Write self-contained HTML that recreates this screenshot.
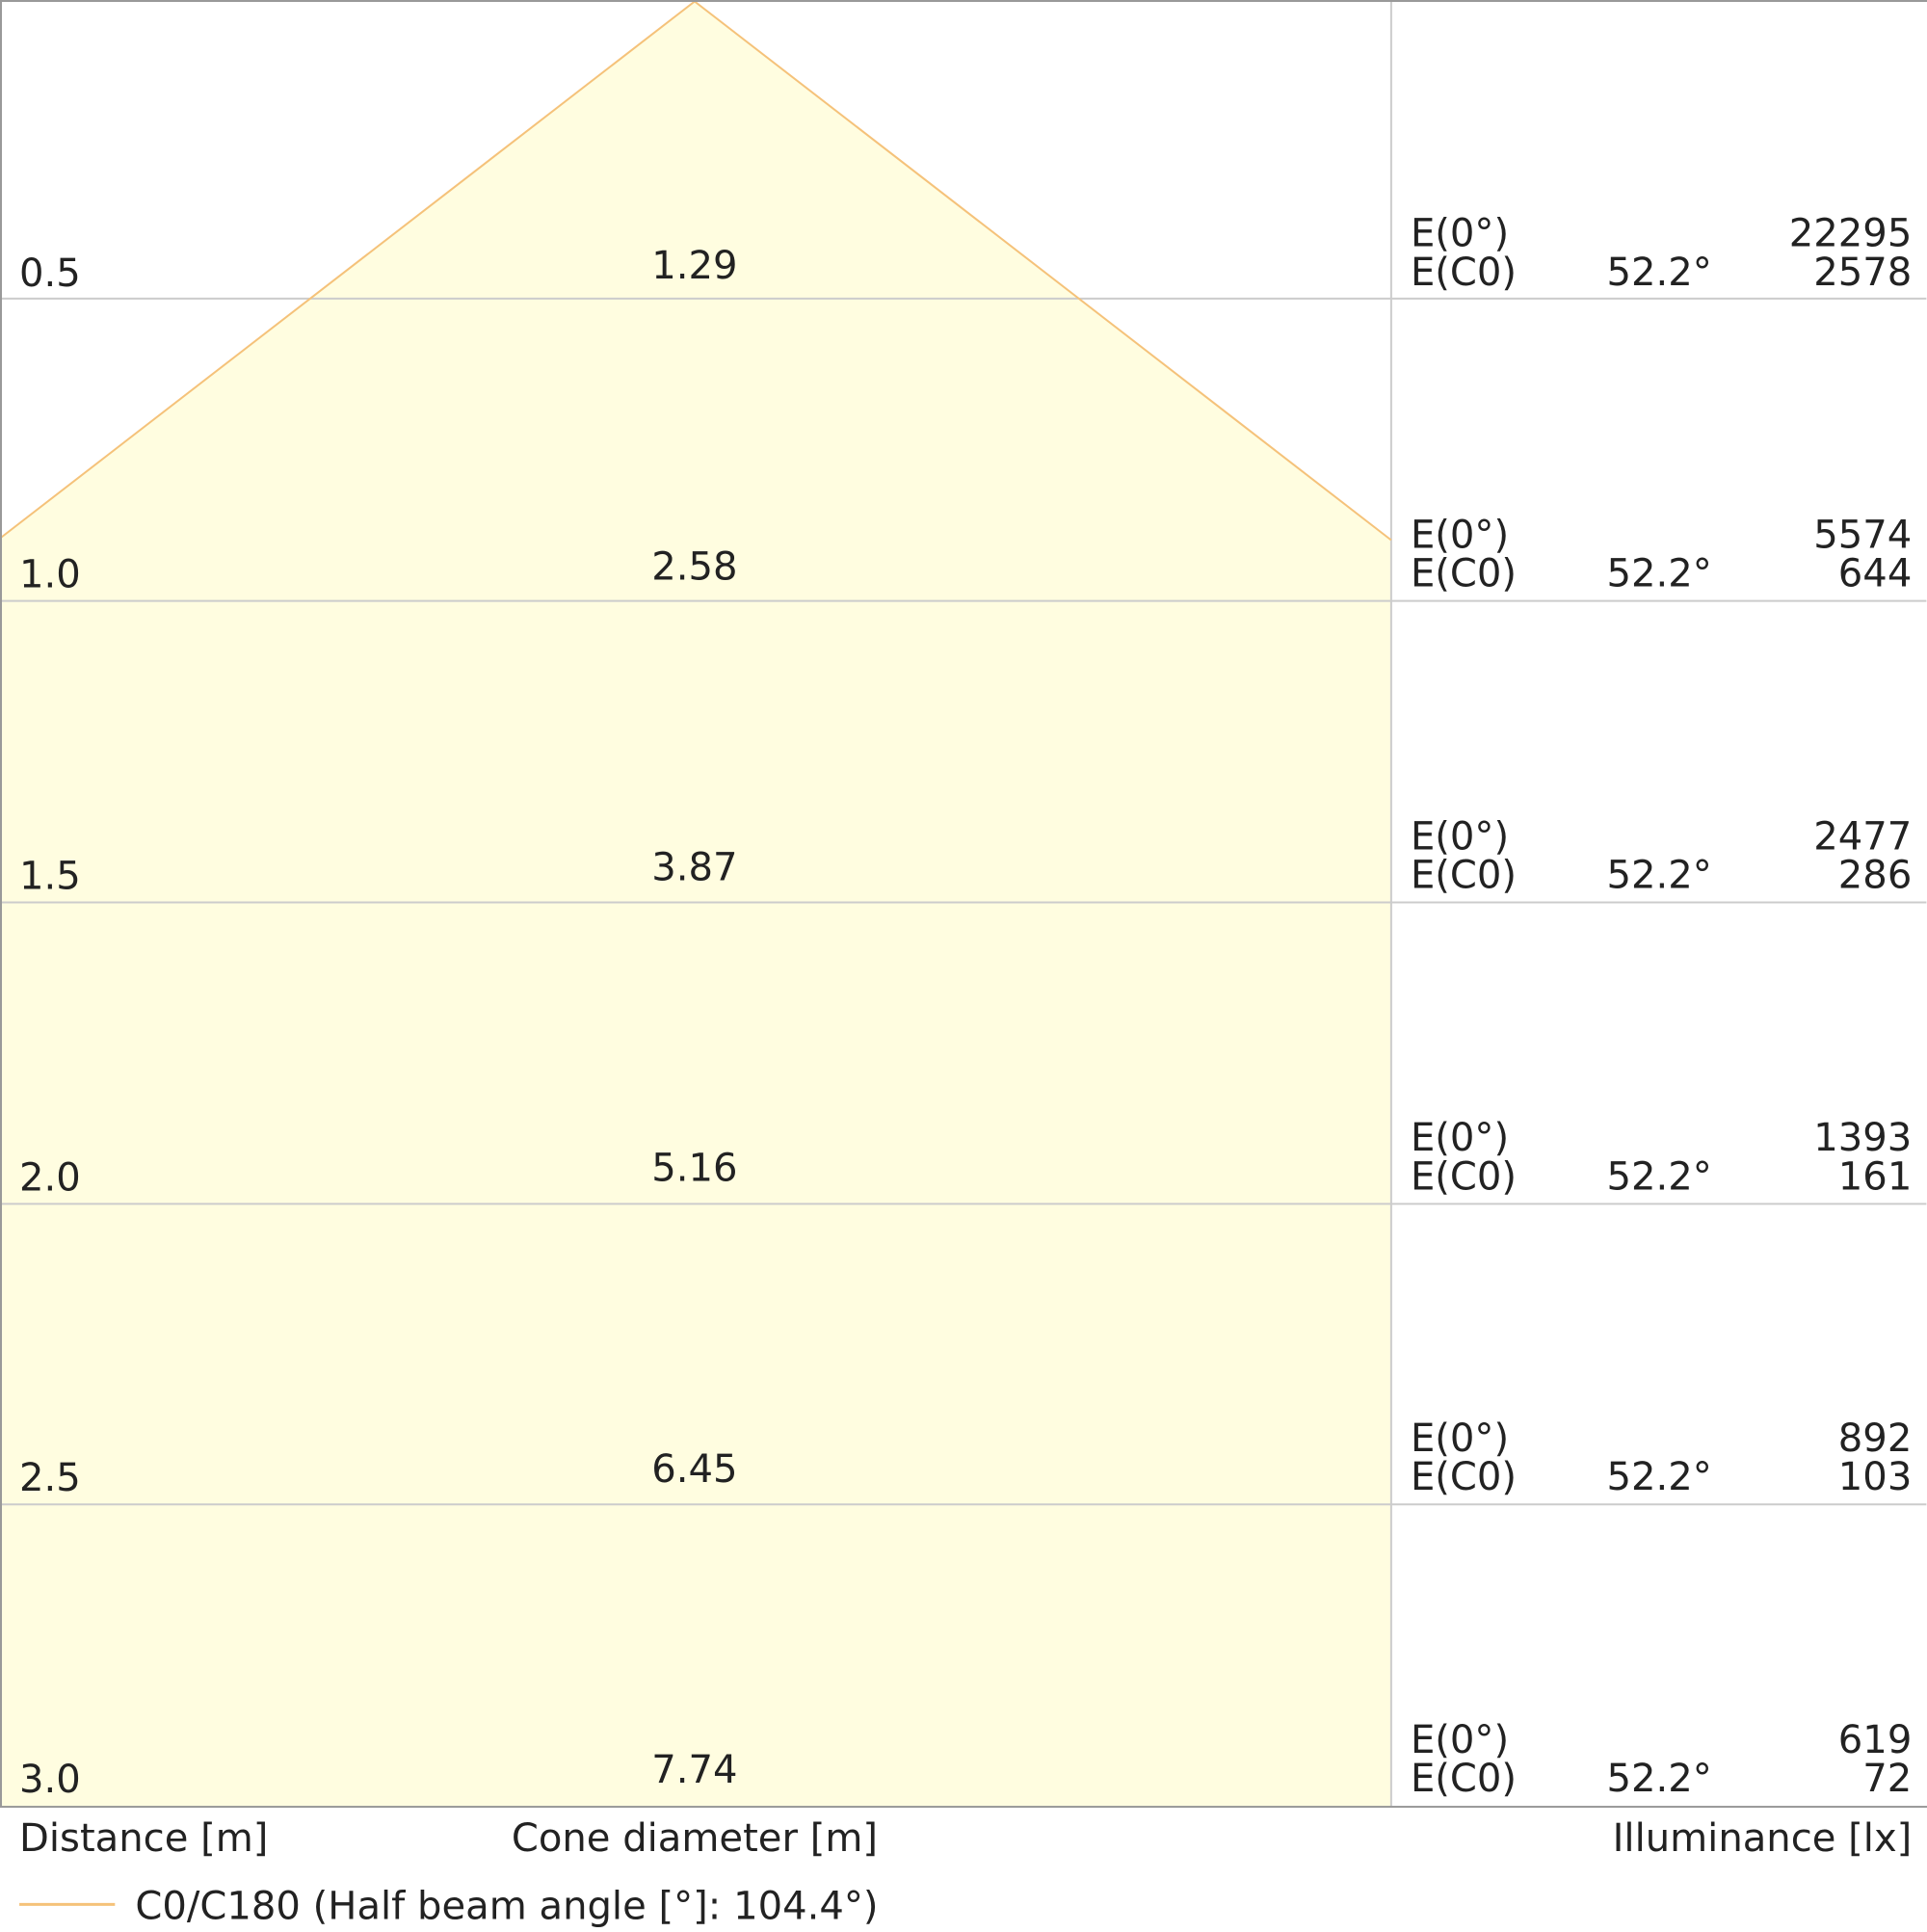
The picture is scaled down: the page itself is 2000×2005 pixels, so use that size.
<!DOCTYPE html>
<html><head><meta charset="utf-8"><style>
html,body{margin:0;padding:0;background:#fff}
svg text{font-family:"DejaVu Sans","Liberation Sans",sans-serif;font-size:40px;fill:#222}
</style></head><body>
<svg width="2000" height="2000" viewBox="0 0 2000 2000" xmlns="http://www.w3.org/2000/svg">
<g transform="scale(1.0027)">
<polygon points="1.5,556 719,1.5 1440,559 1440,1870 1.5,1870" fill="#fffde0"/>
<g stroke="#cccccc" stroke-width="2">
<line x1="1" y1="309" x2="1994" y2="309"/>
<line x1="1" y1="622" x2="1994" y2="622"/>
<line x1="1" y1="934" x2="1994" y2="934"/>
<line x1="1" y1="1246" x2="1994" y2="1246"/>
<line x1="1" y1="1557" x2="1994" y2="1557"/>
<line x1="1440" y1="1" x2="1440" y2="1870"/>
</g>
<polyline points="1.5,556 719,1.5 1440,559" fill="none" stroke="#f5c27a" stroke-width="2"/>
<rect x="1" y="1" width="1996" height="1869" fill="none" stroke="#999" stroke-width="2"/>
<g>
<text x="20" y="296">0.5</text><text x="719" y="288" text-anchor="middle">1.29</text>
<text x="20" y="608">1.0</text><text x="719" y="600" text-anchor="middle">2.58</text>
<text x="20" y="920">1.5</text><text x="719" y="911" text-anchor="middle">3.87</text>
<text x="20" y="1232">2.0</text><text x="719" y="1222" text-anchor="middle">5.16</text>
<text x="20" y="1543">2.5</text><text x="719" y="1534" text-anchor="middle">6.45</text>
<text x="20" y="1855">3.0</text><text x="719" y="1845" text-anchor="middle">7.74</text>
</g>
<g>
<text x="1460" y="255">E(0°)</text><text x="1460" y="295">E(C0)</text><text x="1772" y="295" text-anchor="end">52.2°</text><text x="1979" y="255" text-anchor="end">22295</text><text x="1979" y="295" text-anchor="end">2578</text>
<text x="1460" y="567">E(0°)</text><text x="1460" y="607">E(C0)</text><text x="1772" y="607" text-anchor="end">52.2°</text><text x="1979" y="567" text-anchor="end">5574</text><text x="1979" y="607" text-anchor="end">644</text>
<text x="1460" y="879">E(0°)</text><text x="1460" y="919">E(C0)</text><text x="1772" y="919" text-anchor="end">52.2°</text><text x="1979" y="879" text-anchor="end">2477</text><text x="1979" y="919" text-anchor="end">286</text>
<text x="1460" y="1191">E(0°)</text><text x="1460" y="1231">E(C0)</text><text x="1772" y="1231" text-anchor="end">52.2°</text><text x="1979" y="1191" text-anchor="end">1393</text><text x="1979" y="1231" text-anchor="end">161</text>
<text x="1460" y="1502">E(0°)</text><text x="1460" y="1542">E(C0)</text><text x="1772" y="1542" text-anchor="end">52.2°</text><text x="1979" y="1502" text-anchor="end">892</text><text x="1979" y="1542" text-anchor="end">103</text>
<text x="1460" y="1814">E(0°)</text><text x="1460" y="1854">E(C0)</text><text x="1772" y="1854" text-anchor="end">52.2°</text><text x="1979" y="1814" text-anchor="end">619</text><text x="1979" y="1854" text-anchor="end">72</text>
</g>
<text x="20" y="1916">Distance [m]</text>
<text x="719" y="1916" text-anchor="middle">Cone diameter [m]</text>
<text x="1979" y="1916" text-anchor="end">Illuminance [lx]</text>
<line x1="20" y1="1971" x2="119" y2="1971" stroke="#f5c27a" stroke-width="3"/>
<text x="140" y="1986">C0/C180 (Half beam angle [°]: 104.4°)</text>
</g>
</svg>
</body></html>
